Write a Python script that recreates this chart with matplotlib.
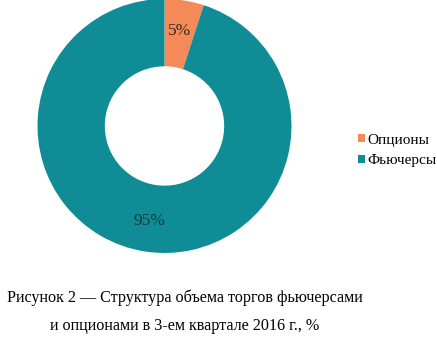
import matplotlib
matplotlib.use("Agg")
import matplotlib.pyplot as plt
from matplotlib.patches import Patch

# data
labels = ["Опционы", "Фьючерсы"]
shares = [5, 95]
colors = ["#F58A59", "#0F8C95"]
caption = ["Рисунок 2 — Структура объема торгов фьючерсами",
           "и опционами в 3-ем квартале 2016 г., %"]

plt.rcParams["font.family"] = ["Liberation Serif", "DejaVu Serif"]

fig = plt.figure(figsize=(4.37, 3.48), dpi=100)
ax = fig.add_axes([0.0858, 0.273, 254/437, 0.730])

wedges, texts, autotexts = ax.pie(
    shares, colors=colors, startangle=90, counterclock=False,
    wedgeprops=dict(width=0.53, edgecolor="none"),
    autopct="%d%%", pctdistance=0.76,
    textprops=dict(fontsize=12.5, color="#3a2a20"))
autotexts[1].set_color("#123c40")
ax.set_xlim(-1, 1)
ax.set_ylim(-1, 1)
ax.set_aspect("equal")
ax.axis("off")

handles = [Patch(facecolor=c, edgecolor="none") for c in colors]
fig.legend(handles, labels, loc="center left", bbox_to_anchor=(0.819, 0.568),
           frameon=False, fontsize=11, handlelength=0.45, handleheight=0.45,
           handletextpad=0.15, labelspacing=0.5, borderpad=0, borderaxespad=0)

fig.text(185/437, 1 - 298/348, caption[0], ha="center", va="center", fontsize=11.6)
fig.text(185/437, 1 - 326/348, caption[1], ha="center", va="center", fontsize=11.6)

fig.savefig("out.png", dpi=100)
